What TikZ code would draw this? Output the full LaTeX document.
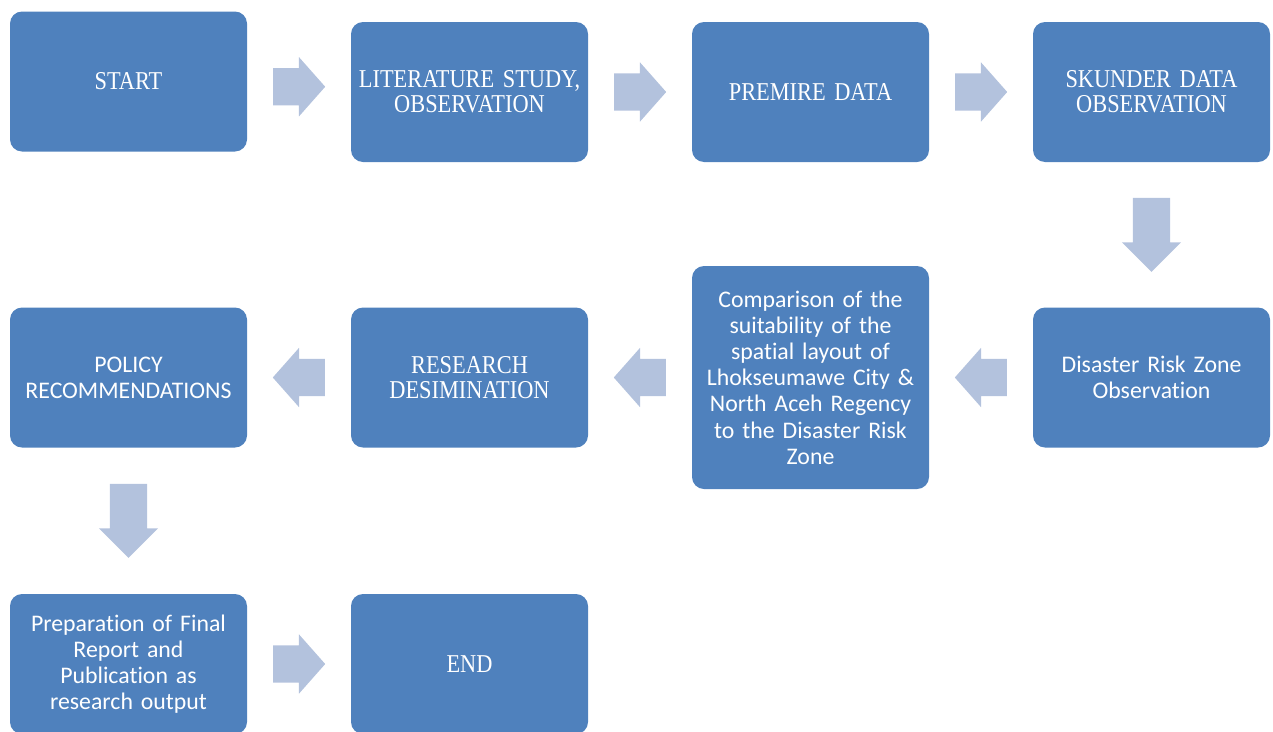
\documentclass[tikz,border=0pt]{standalone}
\usepackage{fontspec}
\usepackage{xcolor}
\usepackage{tikz}
\usetikzlibrary{shapes.arrows,calc}

\newfontfamily\capsfont[FakeStretch=0.87]{Liberation Serif}
\newfontfamily\bodyfont[Ligatures={NoCommon,NoContextual}]{Carlito}
\definecolor{boxblue}{HTML}{4F81BD}
\definecolor{arrowblue}{HTML}{B3C2DD}

\tikzset{
  stepbox/.style={rectangle, rounded corners=12pt, fill=boxblue, text=white,
    minimum width=237pt, minimum height=140pt, text width=222pt,
    align=center, inner sep=0pt},
  capstext/.style={font=\capsfont\fontsize{25.7}{25}\selectfont},
  bodytext/.style={font=\bodyfont\fontsize{23.8}{26.2}\selectfont},
  blockarrow/.style={single arrow, fill=arrowblue, draw=none, inner sep=0pt,
    inner ysep=18.5pt, single arrow head extend=11pt, minimum height=52pt,
    single arrow tip angle=97, anchor=tail},
  downarrow/.style={blockarrow, rotate=270, minimum height=74pt,
    single arrow tip angle=90},
  leftarrow/.style={blockarrow, rotate=180},
}

\begin{document}
\begin{tikzpicture}[x=1pt, y=-1pt]
        \useasboundingbox (0,0) rectangle (1273,731);

        % first row
        \node[stepbox, capstext] (start) at (128.5,81.5) {START};
        \node[stepbox, capstext] (lit) at (469.5,92) {LITERATURE STUDY,\\ OBSERVATION};
        \node[stepbox, capstext] (premire) at (810.5,92) {PREMIRE DATA};
        \node[stepbox, capstext] (skunder) at (1151.5,92) {SKUNDER DATA\\ OBSERVATION};

        % second row
        \node[stepbox, bodytext] (risk) at (1151.5,377.5) {Disaster Risk Zone\\ Observation};
        \node[stepbox, bodytext, minimum height=223pt] (compare) at (810.5,377.5)
            {Comparison of the\\ suitability of the\\ spatial layout of\\ Lhokseumawe City \&\\ North Aceh Regency\\ to the Disaster Risk\\ Zone};
        \node[stepbox, capstext] (desim) at (469.5,377.5) {RESEARCH\\ DESIMINATION};
        \node[stepbox, bodytext] (policy) at (128.5,377.5) {POLICY\\ RECOMMENDATIONS};

        % third row
        \node[stepbox, bodytext] (final) at (128.5,664) {Preparation of Final\\ Report and\\ Publication as\\ research output};
        \node[stepbox, capstext] (end) at (469.5,664) {END};

        % block arrows, tail placed half a length before the gap centre
        \node[blockarrow] (a1) at ($(start.east)!0.5!(lit.west)+(-26,0)$) {};
        \node[blockarrow] (a2) at ($(lit.east)!0.5!(premire.west)+(-26,0)$) {};
        \node[blockarrow] (a3) at ($(premire.east)!0.5!(skunder.west)+(-26,0)$) {};
        \node[downarrow] (a4) at ($(skunder.south)!0.5!(risk.north)+(0,-37)$) {};
        \node[leftarrow] (a5) at ($(risk.west)!0.5!(compare.east)+(26,0)$) {};
        \node[leftarrow] (a6) at ($(compare.west)!0.5!(desim.east)+(26,0)$) {};
        \node[leftarrow] (a7) at ($(desim.west)!0.5!(policy.east)+(26,0)$) {};
        \node[downarrow] (a8) at ($(policy.south)!0.5!(final.north)+(0,-37)$) {};
        \node[blockarrow] (a9) at ($(final.east)!0.5!(end.west)+(-26,0)$) {};
    \end{tikzpicture}
\end{document}
